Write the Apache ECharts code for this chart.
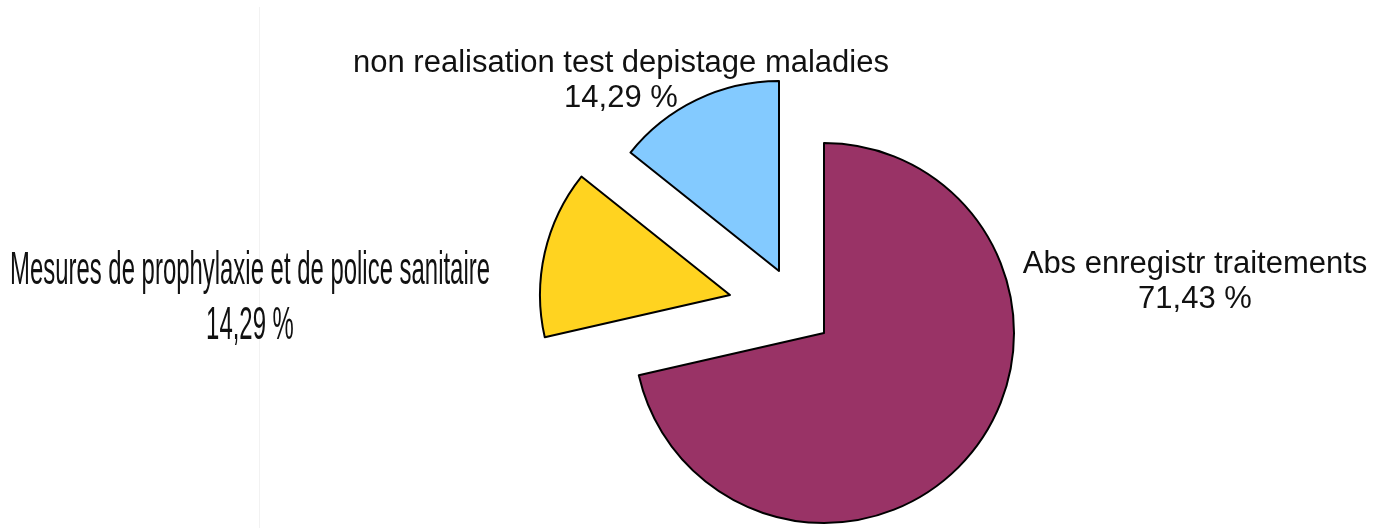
<!DOCTYPE html>
<html>
<head>
<meta charset="utf-8">
<script src="https://cdn.jsdelivr.net/npm/echarts@6/dist/echarts.min.js"></script>
<style>
  html, body { margin: 0; padding: 0; background: #fff; }
  #pieChart { width: 1383px; height: 528px; }
</style>
</head>
<body>
<div id="pieChart"></div>
<script>
// data
var categories = ["Abs enregistr traitements", "Mesures de prophylaxie et de police sanitaire", "non realisation test depistage maladies"];
var values = [71.43, 14.29, 14.29];
var colors = ["#993366", "#FFD320", "#83CAFF"];

// every slice is pulled out by a different amount, so each one gets its own pie center
var centers = [[824, 333], [730, 295], [779, 271]];
var labelPos = [[1195, 282], [250, 299], [621, 81]];

function pctText(v) {
  return v.toFixed(2).replace(".", ",") + " %";
}

var pieChart = echarts.init(document.getElementById("pieChart"));

function sliceSeries(idx) {
  return {
    type: "pie",
    center: centers[idx],
    radius: 190,
    startAngle: 90,
    clockwise: true,
    silent: true,
    animation: false,
    avoidLabelOverlap: false,
    emphasis: { disabled: true },
    labelLine: { show: false },
    label: {
      show: idx !== 1,
      position: "outside",
      formatter: function (p) { return p.name + "\n" + pctText(p.value); },
      fontFamily: "Liberation Sans, Arial, sans-serif",
      fontSize: 31,
      lineHeight: 35,
      color: "#111",
      align: "center",
    },
    labelLayout: function () {
      return { x: labelPos[idx][0], y: labelPos[idx][1], align: "center", verticalAlign: "middle" };
    },
    data: categories.map(function (name, i) {
      var on = i === idx;
      return {
        name: name,
        value: values[i],
        itemStyle: on
          ? { color: colors[i], borderColor: "#000", borderWidth: 2 }
          : { color: "transparent", borderWidth: 0 },
        label: { show: on && idx !== 1 },
      };
    }),
  };
}

var pieOption = {
  backgroundColor: "#fff",
  graphic: [
    {
      type: "line",
      shape: { x1: 259.5, y1: 7, x2: 259.5, y2: 528 },
      style: { stroke: "#f2f2f2", lineWidth: 1 },
      silent: true,
    },
    {
      // the left label is drawn squeezed, like in the original picture
      type: "text",
      x: labelPos[1][0],
      y: labelPos[1][1],
      scaleX: 0.52,
      silent: true,
      style: {
        text: categories[1] + "\n" + pctText(values[1]),
        fontFamily: "Liberation Sans, Arial, sans-serif",
        fontSize: 46,
        lineHeight: 55,
        fill: "#111",
        align: "center",
        verticalAlign: "middle",
      },
    },
  ],
  series: [sliceSeries(0), sliceSeries(1), sliceSeries(2)],
};
pieChart.setOption(pieOption);

window.onresize = function () {
  pieChart.resize();
};
</script>
</body>
</html>
